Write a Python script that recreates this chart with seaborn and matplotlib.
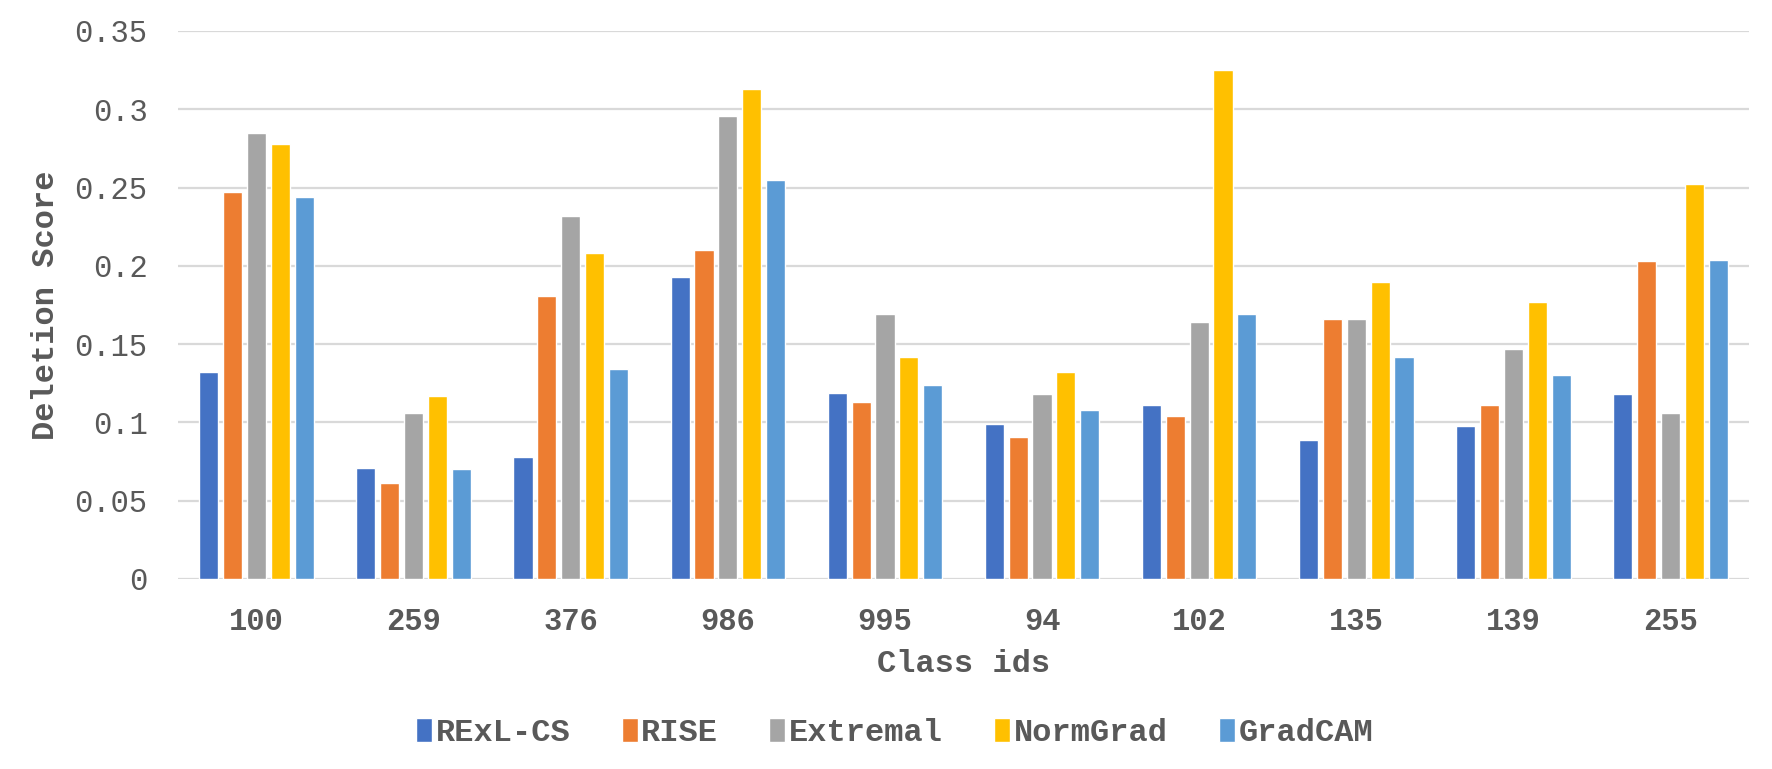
import numpy as np
import pandas as pd
import seaborn as sns
import matplotlib.pyplot as plt

# values
class_ids = ["100", "259", "376", "986", "995", "94", "102", "135", "139", "255"]
methods = ["RExL-CS", "RISE", "Extremal", "NormGrad", "GradCAM"]
rexl_cs = [0.132, 0.071, 0.078, 0.193, 0.119, 0.099, 0.111, 0.089, 0.098, 0.118]
rise = [0.247, 0.061, 0.181, 0.210, 0.113, 0.091, 0.104, 0.166, 0.111, 0.203]
extremal = [0.285, 0.106, 0.232, 0.296, 0.169, 0.118, 0.164, 0.166, 0.147, 0.106]
normgrad = [0.278, 0.117, 0.208, 0.313, 0.142, 0.132, 0.325, 0.190, 0.177, 0.252]
gradcam = [0.244, 0.070, 0.134, 0.255, 0.124, 0.108, 0.169, 0.142, 0.130, 0.204]
colors = ["#4472C4", "#ED7D31", "#A5A5A5", "#FFC000", "#5B9BD5"]

series = [rexl_cs, rise, extremal, normgrad, gradcam]
rows = []
for name, vals in zip(methods, series):
    for cid, v in zip(class_ids, vals):
        rows.append({"Class ids": cid, "Method": name, "Deletion Score": v})
df = pd.DataFrame(rows)

sns.set_theme(style="white")
plt.rcParams['font.family'] = ['Liberation Mono', 'DejaVu Sans Mono']
text_col = "#595959"

fig, ax = plt.subplots(figsize=(17.72, 7.69), dpi=100)
fig.subplots_adjust(left=178 / 1772, right=1749 / 1772, top=1 - 31 / 769, bottom=1 - 579 / 769)

sns.barplot(data=df, x="Class ids", y="Deletion Score", hue="Method",
            order=class_ids, hue_order=methods, palette=colors,
            width=0.76, gap=0.2, saturation=1, ax=ax, zorder=3)

ax.set_ylim(0, 0.35)
ax.set_xlim(-0.5, len(class_ids) - 0.5)
ax.set_yticks(np.arange(0, 0.351, 0.05))
ax.set_yticklabels(["0", "0.05", "0.1", "0.15", "0.2", "0.25", "0.3", "0.35"])
ax.yaxis.grid(True, color="#D9D9D9", linewidth=1.6, zorder=0)
ax.set_axisbelow(True)
for s in ax.spines.values():
    s.set_visible(False)
ax.tick_params(axis="both", length=0, colors=text_col)
ax.tick_params(axis="x", labelsize=22, pad=20)
ax.tick_params(axis="y", labelsize=22, pad=22)
for lab in ax.get_xticklabels():
    lab.set_fontweight("bold")

ax.set_xlabel("Class ids", fontsize=23, color=text_col, fontweight="bold", labelpad=9)
ax.set_ylabel("Deletion Score", fontsize=23, color=text_col, fontweight="bold", labelpad=10)

handles, labels = ax.get_legend_handles_labels()
ax.legend_.remove()
fig.legend(handles, labels, loc="center", bbox_to_anchor=(0.505, 1 - 733 / 769),
           ncol=5, frameon=False, handlelength=0.5, handleheight=0.8,
           handletextpad=0.12, columnspacing=1.6, labelcolor=text_col,
           prop={"weight": "bold", "size": 23})

plt.savefig("out.png", dpi=100)
